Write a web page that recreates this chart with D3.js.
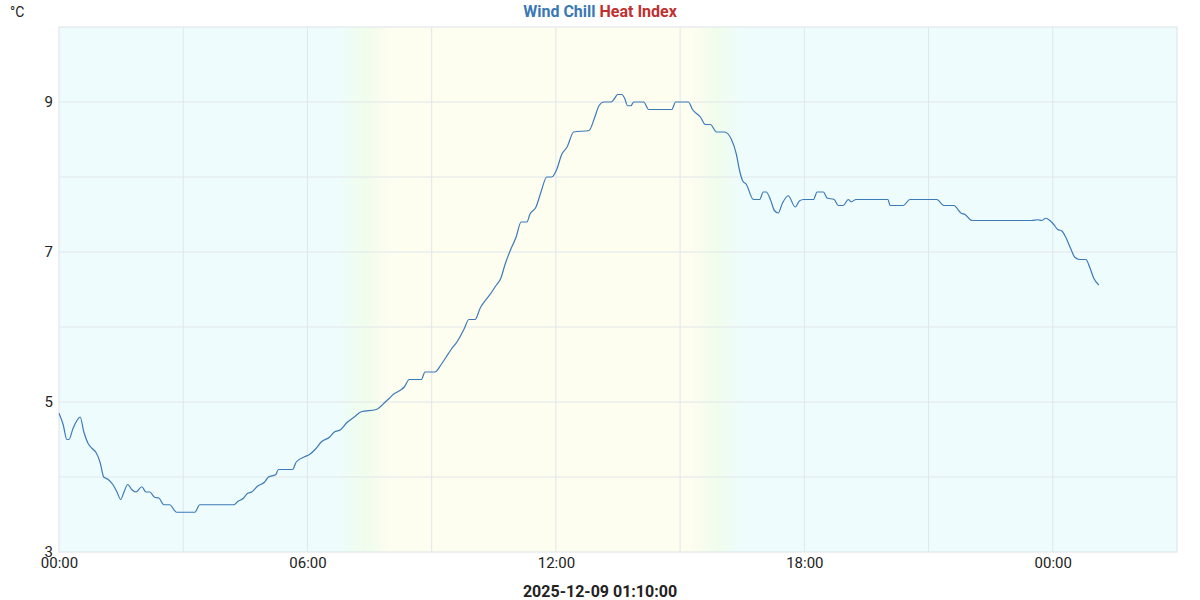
<!DOCTYPE html>
<html><head><meta charset="utf-8">
<script src="https://cdn.jsdelivr.net/npm/d3@7"></script>
<style>body{margin:0;background:#fff;font-family:Roboto,sans-serif}</style>
</head><body>
<script>
// hours since 00:00 and wind chill (°C)
const hours = [0,.10,.19,.24,.34,.43,.51,.60,.70,.80,.89,.99,1.08,1.18,1.30,1.40,1.49,1.57,1.66,1.76,1.86,2.0,2.10,2.19,2.31,2.41,2.53,2.67,2.84,3.28,3.40,4.22,4.31,4.46,4.55,4.65,4.80,4.96,5.06,5.23,5.30,5.64,5.73,5.93,6.05,6.19,6.34,6.53,6.65,6.80,6.96,7.13,7.30,7.66,7.88,7.98,8.07,8.22,8.34,8.46,8.75,8.84,9.08,9.23,9.35,9.47,9.61,9.78,9.90,10.05,10.17,10.29,10.43,10.55,10.67,10.77,10.92,11.04,11.16,11.30,11.37,11.52,11.64,11.78,11.90,12.02,12.14,12.27,12.43,12.80,12.94,13.04,13.16,13.33,13.42,13.49,13.59,13.66,13.73,13.81,13.88,14.12,14.24,14.80,14.89,15.20,15.30,15.49,15.61,15.73,15.88,16.07,16.24,16.36,16.43,16.51,16.60,16.77,16.92,17.01,17.08,17.18,17.28,17.37,17.47,17.61,17.78,17.88,17.98,18.22,18.31,18.46,18.55,18.72,18.82,18.94,19.06,19.13,19.25,20.02,20.07,20.39,20.55,21.20,21.37,21.61,21.78,21.88,22.05,23.49,23.64,23.73,23.83,23.93,24.02,24.12,24.22,24.31,24.43,24.53,24.65,24.80,24.89,24.99,25.11];
const windChill = [4.85,4.7,4.5,4.5,4.65,4.75,4.8,4.6,4.45,4.38,4.33,4.2,4.0,3.97,3.9,3.8,3.7,3.8,3.9,3.83,3.8,3.87,3.8,3.8,3.73,3.72,3.63,3.63,3.53,3.53,3.63,3.63,3.67,3.72,3.78,3.8,3.88,3.93,4.0,4.03,4.1,4.1,4.2,4.27,4.3,4.37,4.47,4.53,4.6,4.63,4.73,4.8,4.87,4.9,5.0,5.05,5.1,5.15,5.2,5.3,5.3,5.4,5.4,5.5,5.6,5.7,5.8,5.97,6.1,6.1,6.25,6.35,6.45,6.55,6.65,6.83,7.05,7.2,7.4,7.4,7.5,7.6,7.8,8.0,8.0,8.1,8.3,8.4,8.6,8.62,8.8,8.95,9.0,9.0,9.05,9.1,9.1,9.05,8.95,8.95,9.0,9.0,8.9,8.9,9.0,9.0,8.9,8.8,8.7,8.7,8.6,8.6,8.5,8.3,8.1,7.95,7.9,7.7,7.7,7.8,7.8,7.7,7.55,7.52,7.65,7.75,7.6,7.68,7.7,7.7,7.8,7.8,7.72,7.7,7.62,7.62,7.7,7.67,7.7,7.7,7.62,7.62,7.7,7.7,7.62,7.62,7.52,7.5,7.42,7.42,7.43,7.42,7.45,7.42,7.37,7.3,7.28,7.2,7.05,6.93,6.9,6.9,6.8,6.65,6.56];
const xTickHours = [0, 6, 12, 18, 24];
const xTickLabels = ["00:00", "06:00", "12:00", "18:00", "00:00"];
const yTicks = [3, 5, 7, 9];
// day/night background bands (hours, colour)
const bandHours = [0, 6.7, 7.4, 8.0, 15.3, 15.9, 16.5, 27];
const bandColors = ["#eefcfd", "#eefcfd", "#f0fdec", "#fdfdf0", "#fdfdf0", "#f0fdec", "#eefcfd", "#eefcfd"];

const width = 1200, height = 600;
const marginTop = 27, marginRight = 23, marginBottom = 48, marginLeft = 59;

const x = d3.scaleLinear().domain([0, 27]).range([marginLeft, width - marginRight]);
const y = d3.scaleLinear().domain([3, 10]).range([height - marginBottom, marginTop]);

const svg = d3.create("svg").attr("width", width).attr("height", height)
  .style("font-family", "Roboto, sans-serif");

const grad = svg.append("defs").append("linearGradient").attr("id", "bg")
  .attr("gradientUnits", "userSpaceOnUse")
  .attr("x1", x(0)).attr("x2", x(27)).attr("y1", 0).attr("y2", 0);
grad.selectAll("stop").data(bandHours).join("stop")
  .attr("offset", d => d / 27)
  .attr("stop-color", (d, i) => bandColors[i]);

svg.append("rect")
  .attr("x", x(0)).attr("y", y(10))
  .attr("width", x(27) - x(0)).attr("height", y(3) - y(10))
  .attr("fill", "url(#bg)").attr("stroke", "#dde4ea");

// grid
svg.append("g").attr("stroke", "#e2e6ea")
  .call(g => g.selectAll("line.v").data(d3.range(3, 27, 3)).join("line")
    .attr("x1", d => x(d)).attr("x2", d => x(d)).attr("y1", y(10)).attr("y2", y(3)))
  .call(g => g.selectAll("line.h").data(d3.range(4, 10)).join("line")
    .attr("y1", d => y(d)).attr("y2", d => y(d)).attr("x1", x(0)).attr("x2", x(27)));

// axes
svg.append("g").attr("transform", `translate(0,${y(3)})`)
  .call(d3.axisBottom(x).tickValues(xTickHours).tickFormat((d, i) => xTickLabels[i]).tickSize(0).tickPadding(5))
  .call(g => g.select(".domain").remove())
  .call(g => g.selectAll("text").attr("font-size", 15).attr("fill", "#222").attr("font-family", "Roboto, sans-serif"));

svg.append("g").attr("transform", `translate(${x(0)},0)`)
  .call(d3.axisLeft(y).tickValues(yTicks).tickFormat(d3.format("d")).tickSize(0).tickPadding(6))
  .call(g => g.select(".domain").remove())
  .call(g => g.selectAll("text").attr("font-size", 15).attr("fill", "#222").attr("font-family", "Roboto, sans-serif"));

// line
const pts = hours.map((h, i) => [h, windChill[i]]);
svg.append("path").datum(pts)
  .attr("fill", "none").attr("stroke", "#3d7ab8").attr("stroke-width", 1.2)
  .attr("d", d3.line().x(d => x(d[0])).y(d => y(d[1])).curve(d3.curveMonotoneX));

// labels
svg.append("text").attr("x", 10).attr("y", 17).attr("font-size", 14).attr("fill", "#222").text("°C");
const title = svg.append("text").attr("x", width / 2).attr("y", 17)
  .attr("text-anchor", "middle").attr("font-size", 16).attr("font-weight", "bold");
title.append("tspan").attr("fill", "#3a78b5").text("Wind Chill ");
title.append("tspan").attr("fill", "#c0302f").text("Heat Index");
svg.append("text").attr("x", width / 2).attr("y", 597)
  .attr("text-anchor", "middle").attr("font-size", 16).attr("font-weight", "bold").attr("fill", "#222")
  .text("2025-12-09 01:10:00");

document.body.appendChild(svg.node());
</script>
</body></html>
